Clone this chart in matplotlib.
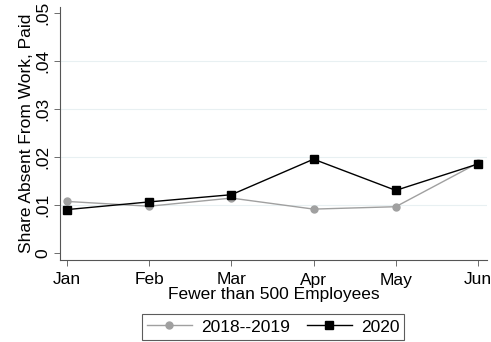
import numpy as np
import matplotlib.pyplot as plt
from matplotlib.ticker import FuncFormatter

plt.rcParams['font.family'] = ['Liberation Sans', 'DejaVu Sans']

months = ['Jan', 'Feb', 'Mar', 'Apr', 'May', 'Jun']
share_1819 = [0.0107, 0.0097, 0.0114, 0.0091, 0.0096, 0.0187]
share_2020 = [0.0090, 0.0106, 0.0121, 0.0195, 0.0130, 0.0185]
yticks = [0, 0.01, 0.02, 0.03, 0.04, 0.05]

x = np.arange(len(months))

fig = plt.figure(figsize=(4.91, 3.42), dpi=100)
ax = fig.add_axes([60 / 491, 82 / 342, 427 / 491, 253 / 342])

for y in yticks[1:-1]:
    ax.axhline(y, color='#e8f0f2', lw=0.8, zorder=0)

ax.plot(x, share_1819, color='#a0a0a0', lw=1.0, marker='o', ms=5,
        label='2018--2019', zorder=2)
ax.plot(x, share_2020, color='black', lw=1.0, marker='s', ms=5.5,
        label='2020', zorder=3)

ax.set_xlim(-0.085, 5.11)
ax.set_ylim(-0.0015, 0.0512)
ax.set_xticks(x)
ax.set_xticklabels(months)
ax.set_yticks(yticks)
ax.yaxis.set_major_formatter(FuncFormatter(lambda v, p: '0' if v == 0 else f'{v:.2f}'.lstrip('0')))
for lab in ax.get_yticklabels():
    lab.set_rotation(90)
    lab.set_va('center')

ax.tick_params(labelsize=12.5, length=4, width=0.6, color='#555555', pad=3)
ax.tick_params(axis='x', pad=5)
ax.spines['top'].set_visible(False)
ax.spines['right'].set_visible(False)
ax.spines['left'].set_color('#555555')
ax.spines['bottom'].set_color('#555555')
ax.spines['left'].set_linewidth(0.8)
ax.spines['bottom'].set_linewidth(0.8)

ax.set_xlabel('Fewer than 500 Employees', fontsize=12.5, labelpad=0)
ax.set_ylabel('Share Absent From Work, Paid', fontsize=12.5, labelpad=1)

leg = fig.legend(loc='center', bbox_to_anchor=(273 / 491, 1 - 327 / 342), ncol=2,
                 fontsize=12.5, frameon=True, fancybox=False, handlelength=2.6,
                 columnspacing=1.0, borderpad=0.3, handletextpad=0.5)
leg.get_frame().set_edgecolor('#333333')
leg.get_frame().set_linewidth(0.8)

fig.savefig('out.png', dpi=100, facecolor='white')
